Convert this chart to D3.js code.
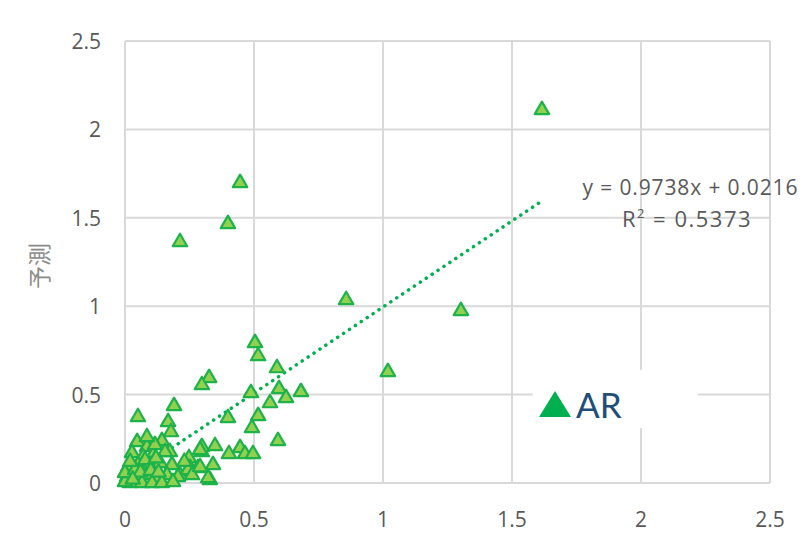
<!DOCTYPE html>
<html>
<head>
<meta charset="utf-8">
<script src="https://cdn.jsdelivr.net/npm/d3@7"></script>
<style>
  body { margin: 0; background: #fff; }
  svg { display: block; }
</style>
</head>
<body>
<svg id="chart"></svg>
<script>
const actual = [
  1.616, 0.446, 0.399, 0.213, 0.857, 1.302, 1.019, 0.504, 0.516, 0.589,
  0.326, 0.298, 0.488, 0.597, 0.624, 0.682, 0.562, 0.516, 0.492, 0.399,
  0.593, 0.349, 0.298, 0.403, 0.446, 0.465, 0.496, 0.341, 0.329, 0.050,
  0.190, 0.167, 0.178, 0.143, 0.047, 0.248, 0.252, 0.322, 0.213, 0.182,
  0.174, 0.085, 0.027, 0.070, 0.109, 0.155, 0.283, 0.012, 0.050, 0.097,
  0.136, 0.244, 0.008, 0.047, 0.085, 0.124, 0.163, 0.205, 0.019, 0.066,
  0.105, 0.143, 0.186, 0.260, 0.000, 0.000, 0.039, 0.078, 0.116, 0.085,
  0.298, 0.291, 0.291, 0.020, 0.060, 0.100, 0.130, 0.030, 0.230, 0.120
];
// predicted values (y)
const predicted = [
  2.110, 1.697, 1.465, 1.363, 1.035, 0.973, 0.628, 0.792, 0.718, 0.650,
  0.594, 0.554, 0.509, 0.532, 0.481, 0.515, 0.452, 0.379, 0.311, 0.368,
  0.238, 0.209, 0.175, 0.164, 0.198, 0.164, 0.164, 0.102, 0.017, 0.373,
  0.436, 0.345, 0.288, 0.238, 0.232, 0.141, 0.085, 0.028, 0.045, 0.102,
  0.175, 0.204, 0.170, 0.147, 0.158, 0.175, 0.085, 0.090, 0.102, 0.102,
  0.113, 0.074, 0.034, 0.034, 0.045, 0.028, 0.045, 0.034, 0.000, 0.000,
  0.000, 0.000, 0.006, 0.045, 0.006, 0.057, 0.074, 0.130, 0.215, 0.260,
  0.204, 0.090, 0.187, 0.120, 0.060, 0.070, 0.060, 0.020, 0.120, 0.140
];
const xTicks = [0, 0.5, 1, 1.5, 2, 2.5];
const yTicks = [0, 0.5, 1, 1.5, 2, 2.5];
const slope = 0.9738;
const intercept = 0.0216;
const equationText = "y = 0.9738x + 0.0216";
const r2Value = "0.5373";
const yTitle = "予測";
const seriesName = "AR";

const width = 810, height = 541;
const margin = { left: 125, right: 40, top: 41, bottom: 58 };

const svg = d3.select("#chart")
  .attr("width", width)
  .attr("height", height);

const xScale = d3.scaleLinear([0, 2.5], [margin.left, width - margin.right]);
const yScale = d3.scaleLinear([0, 2.5], [height - margin.bottom, margin.top]);

const points = actual.map((d, i) => ({ x: d, y: predicted[i] }));

// grid
const grid = svg.append("g").attr("stroke", "#d9d9d9").attr("stroke-width", 2);
grid.selectAll(".gx")
  .data(xTicks)
  .join("line")
  .attr("x1", d => xScale(d)).attr("x2", d => xScale(d))
  .attr("y1", yScale(0)).attr("y2", yScale(2.5));
grid.selectAll(".gy")
  .data(yTicks)
  .join("line")
  .attr("x1", xScale(0)).attr("x2", xScale(2.5))
  .attr("y1", d => yScale(d)).attr("y2", d => yScale(d));

// tick labels
const tickFont = "'Open Sans', 'Liberation Sans', sans-serif";
svg.append("g")
  .selectAll("text")
  .data(yTicks)
  .join("text")
  .attr("x", margin.left - 24)
  .attr("y", d => yScale(d) + 8)
  .attr("text-anchor", "end")
  .attr("font-family", tickFont)
  .attr("font-size", 21)
  .attr("fill", "#595959")
  .text(d => d);
svg.append("g")
  .selectAll("text")
  .data(xTicks)
  .join("text")
  .attr("x", d => xScale(d))
  .attr("y", yScale(0) + 44)
  .attr("text-anchor", "middle")
  .attr("font-family", tickFont)
  .attr("font-size", 21)
  .attr("fill", "#595959")
  .text(d => d);

// y title
svg.append("text")
  .attr("transform", `translate(48, 266) rotate(-90)`)
  .attr("text-anchor", "middle")
  .attr("font-family", "'Noto Sans CJK JP', sans-serif")
  .attr("font-size", 23)
  .attr("fill", "#8c8c8c")
  .text(yTitle);

// legend box (covers grid)
const legend = svg.append("g");
legend.append("rect")
  .attr("x", xScale(1.58)).attr("y", yScale(0.64))
  .attr("width", xScale(2.22) - xScale(1.58))
  .attr("height", yScale(0.31) - yScale(0.64))
  .attr("fill", "#fff");

// trendline
const xMin = d3.min(actual), xMax = d3.max(actual);
svg.append("line")
  .attr("x1", xScale(xMin)).attr("y1", yScale(slope * xMin + intercept))
  .attr("x2", xScale(xMax)).attr("y2", yScale(slope * xMax + intercept))
  .attr("stroke", "#00b050")
  .attr("stroke-width", 3.5)
  .attr("stroke-linecap", "round")
  .attr("stroke-dasharray", "0.1 7");

// points
const tri = d3.symbol().type(d3.symbolTriangle).size(90);
svg.append("g")
  .selectAll("path")
  .data(points)
  .join("path")
  .attr("transform", d => `translate(${xScale(d.x)}, ${yScale(d.y)})`)
  .attr("d", tri)
  .attr("fill", "#92d050")
  .attr("stroke", "#1db24a")
  .attr("stroke-width", 2.2)
  .attr("stroke-linejoin", "round");

// equation
svg.append("text")
  .attr("x", 690).attr("y", 195)
  .attr("text-anchor", "middle")
  .attr("font-family", tickFont)
  .attr("font-size", 21)
  .attr("fill", "#595959")
  .attr("textLength", 215)
  .attr("lengthAdjust", "spacing")
  .text(equationText);
const r2 = svg.append("text")
  .attr("x", 687).attr("y", 227)
  .attr("text-anchor", "middle")
  .attr("font-family", tickFont)
  .attr("font-size", 22)
  .attr("letter-spacing", 1.5)
  .attr("fill", "#595959");
r2.append("tspan").text("R");
r2.append("tspan").attr("font-size", 13).attr("dy", -9).text("2");
r2.append("tspan").attr("dy", 9).text(" = " + r2Value);

// legend content
legend.append("path")
  .attr("d", "M539,417 L571,417 L555,391 Z")
  .attr("fill", "#00b050");
legend.append("text")
  .attr("x", 576).attr("y", 418)
  .attr("font-family", "Lato, 'Open Sans', sans-serif")
  .attr("font-size", 35)
  .attr("fill", "#1f4e79")
  .text(seriesName);
</script>
</body>
</html>
